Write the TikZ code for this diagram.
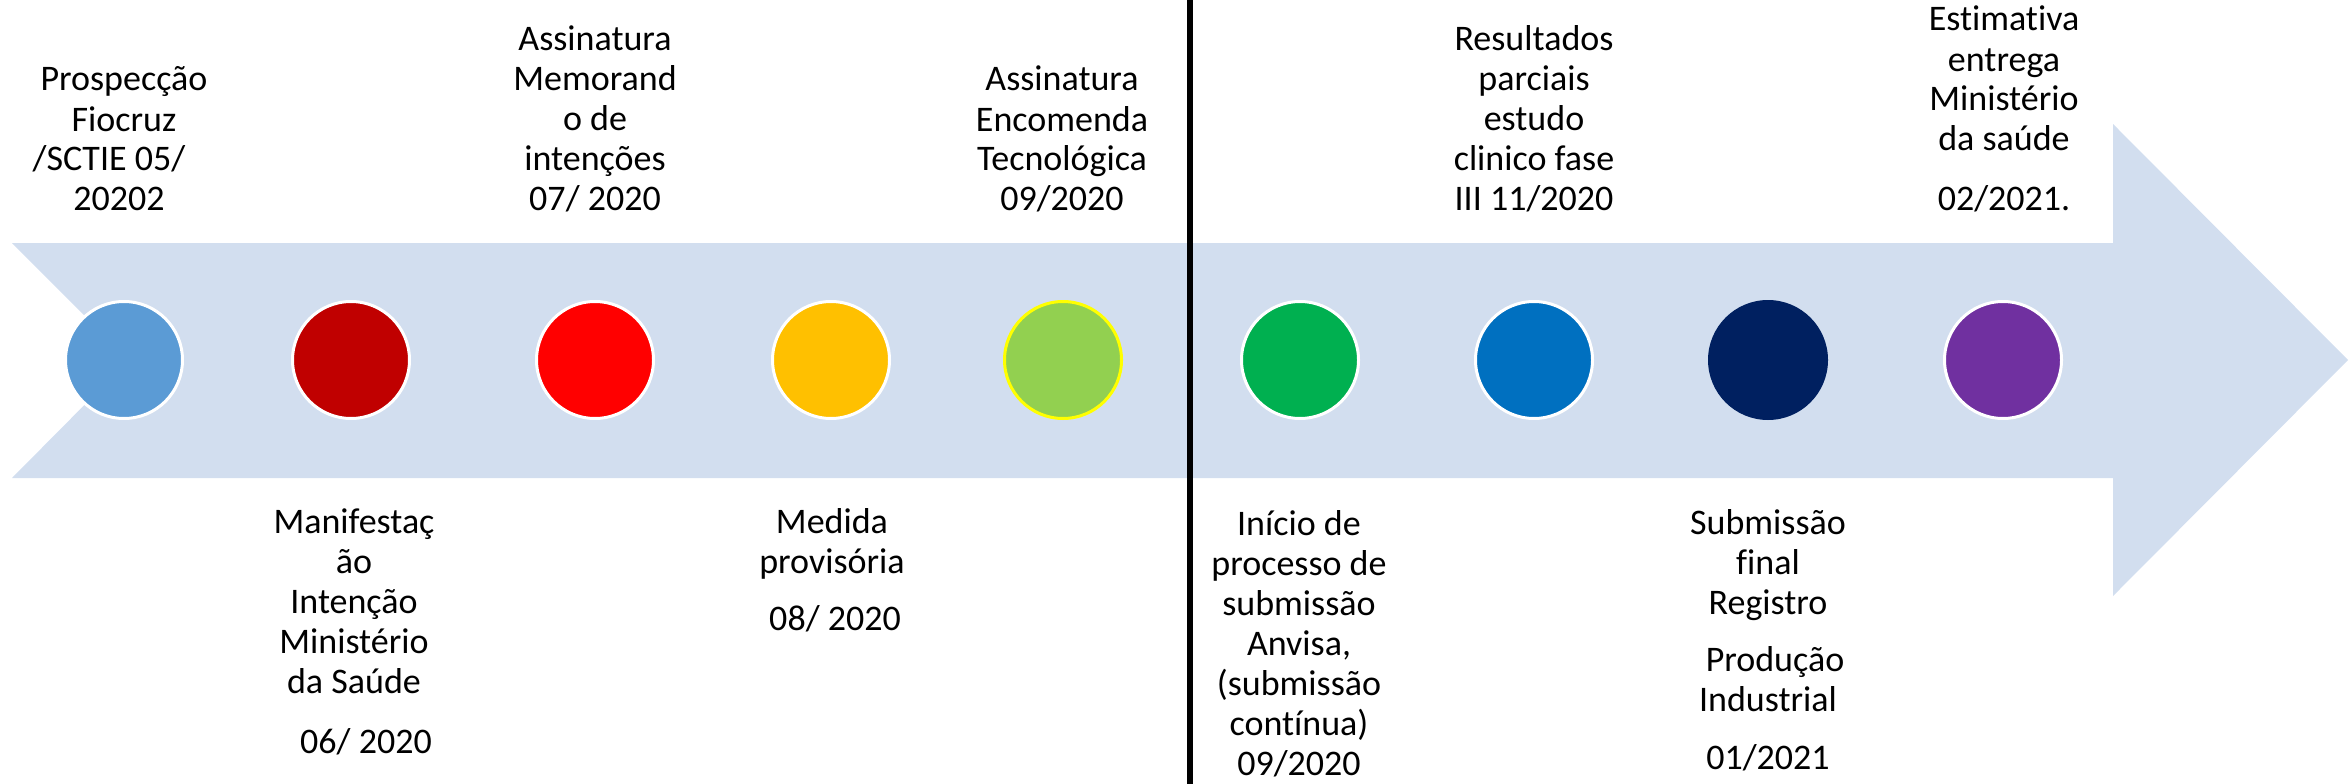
\documentclass[tikz,border=0pt]{standalone}
\usepackage{fontspec}
\setmainfont{Carlito}[Ligatures={NoCommon}]
\definecolor{bandc}{RGB}{210,222,239}
\definecolor{c1}{RGB}{91,155,213}
\definecolor{c2}{RGB}{192,0,0}
\definecolor{c3}{RGB}{255,0,0}
\definecolor{c4}{RGB}{255,192,0}
\definecolor{c5}{RGB}{146,208,80}
\definecolor{c6}{RGB}{0,176,80}
\definecolor{c7}{RGB}{0,112,192}
\definecolor{c8}{RGB}{0,32,96}
\definecolor{c9}{RGB}{112,48,160}
\definecolor{ring5}{RGB}{255,255,0}
\newcommand{\blk}[1]{\begin{tabular}[t]{@{}c@{}}#1\end{tabular}}
\begin{document}
\begin{tikzpicture}[x=1pt,y=-1pt,
  lbl/.style={inner sep=0pt, anchor=base, font=\fontsize{36}{40}\selectfont},
  dot/.style={circle, inner sep=0pt, minimum size=117pt, draw=white, line width=3pt},
  divider/.style={line width=6pt, draw=black}]
\useasboundingbox (0,0) rectangle (2351,784);
% band arrow
\fill[bandc] (12,243) -- (2113,243) -- (2113,124) -- (2348,360) -- (2113,596)
  -- (2113,478) -- (12,478) -- (129,360) -- cycle;
% circles
\node[dot, fill=c1] (d1) at (124,360) {};
\node[dot, fill=c2] (d2) at (351,360) {};
\node[dot, fill=c3] (d3) at (595,360) {};
\node[dot, fill=c4] (d4) at (831,360) {};
\node[dot, fill=c5, draw=ring5] (d5) at (1063,360) {};
\node[dot, fill=c6] (d6) at (1300,360) {};
\node[dot, fill=c7] (d7) at (1534,360) {};
\node[dot, fill=c8, draw=c8] (d8) at (1768,360) {};
\node[dot, fill=c9] (d9) at (2003,360) {};
% divider
\coordinate (vtop) at (1190,0);
\coordinate (vbot) at (1190,784);
\draw[divider] (vtop) -- (vbot);
% top labels
\node[lbl] (t1) at (124,91) {\blk{Prospecção\\Fiocruz\\/SCTIE 05/\hspace*{30pt}\\20202\hspace*{10pt}}};
\node[lbl] (t2) at (595,51) {\blk{Assinatura\\Memorand\\o de\\intenções\\07/ 2020}};
\node[lbl] (t3) at (1062,91) {\blk{Assinatura\\Encomenda\\Tecnológica\\09/2020}};
\node[lbl] (t4) at (1534,51) {\blk{Resultados\\parciais\\estudo\\clinico fase\\III 11/2020}};
\node[lbl] (t5) at (2004,31) {\blk{Estimativa\\entrega\\Ministério\\da saúde\\[20pt]02/2021.}};
% bottom labels
\node[lbl] (b1) at (354,533) {\blk{Manifestaç\\ão\\Intenção\\Ministério\\da Saúde\\[20pt]\hspace*{24pt}06/ 2020}};
\node[lbl] (b2) at (832,533) {\blk{Medida\\provisória\\[17pt]\hspace*{6pt}08/ 2020}};
\node[lbl] (b3) at (1299,535) {\blk{Início de\\processo de\\submissão\\Anvisa,\\(submissão\\contínua)\\09/2020}};
\node[lbl] (b4) at (1768,534) {\blk{Submissão\\final\\Registro\\[17pt]\hspace*{14pt}Produção\\Industrial\\[18pt]01/2021}};
\end{tikzpicture}
\end{document}
